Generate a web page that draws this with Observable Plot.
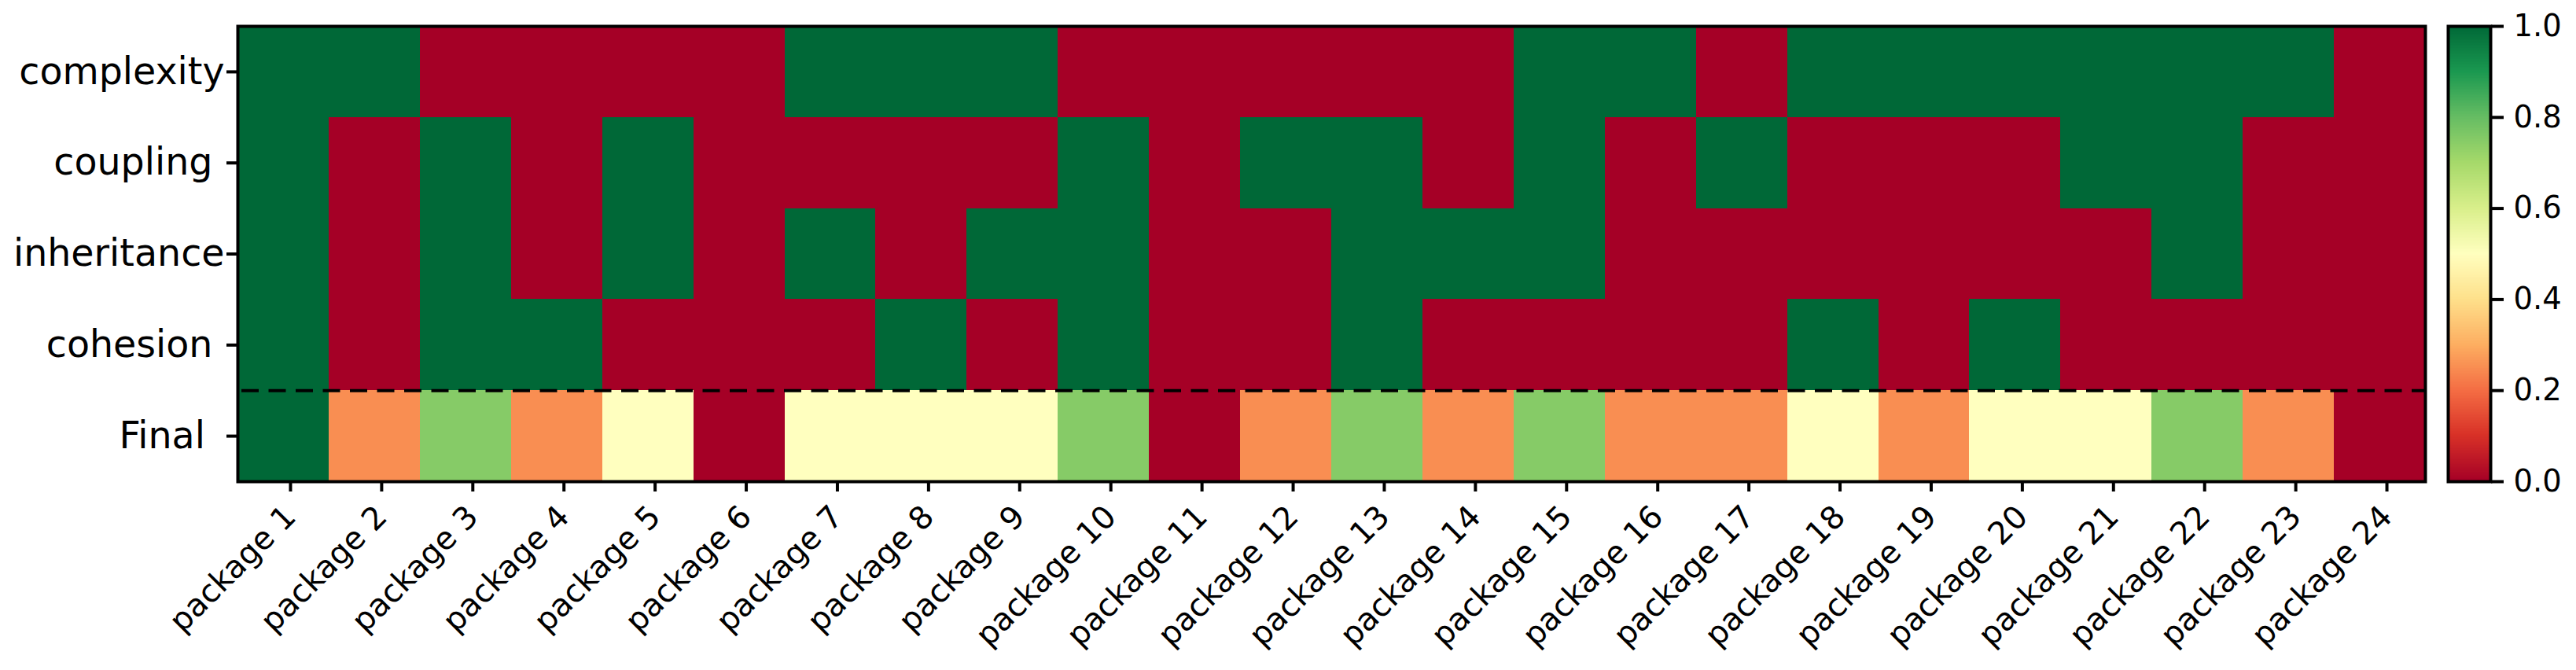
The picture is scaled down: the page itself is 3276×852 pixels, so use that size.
<!DOCTYPE html>
<html><head><meta charset="utf-8">
<script src="https://cdn.jsdelivr.net/npm/d3@7"></script>
<script src="https://cdn.jsdelivr.net/npm/@observablehq/plot@0.6"></script>
<style>
html,body{margin:0;padding:0;background:#fff;}
#chart{display:flex;width:3276px;height:852px;font-family:"DejaVu Sans",sans-serif;}
</style></head><body><div id="chart"></div><script>
const packages = ["package 1","package 2","package 3","package 4","package 5","package 6","package 7","package 8","package 9","package 10","package 11","package 12","package 13","package 14","package 15","package 16","package 17","package 18","package 19","package 20","package 21","package 22","package 23","package 24"];
const metrics = ["complexity","coupling","inheritance","cohesion","Final"];
const complexity  = [1,1,0,0,0,0,1,1,1,0,0,0,0,0,1,1,0,1,1,1,1,1,1,0];
const coupling    = [1,0,1,0,1,0,0,0,0,1,0,1,1,0,1,0,1,0,0,0,1,1,0,0];
const inheritance = [1,0,1,0,1,0,1,0,1,1,0,0,1,1,1,0,0,0,0,0,0,1,0,0];
const cohesion    = [1,0,1,1,0,0,0,1,0,1,0,0,1,0,0,0,0,1,0,1,0,0,0,0];
const finalScore  = [1,0.25,0.75,0.25,0.5,0,0.5,0.5,0.5,0.75,0,0.25,0.75,0.25,0.75,0.25,0.25,0.5,0.25,0.5,0.5,0.75,0.25,0];
const colorbarTicks = [0,0.2,0.4,0.6,0.8,1.0];

const rdylgn = ["#a50026","#d73027","#f46d43","#fdae61","#fee08b","#ffffbf","#d9ef8b","#a6d96a","#66bd63","#1a9850","#006837"];
const rowValues = [complexity, coupling, inheritance, cohesion, finalScore];
const table = metrics.flatMap((m, r) => packages.map((p, i) => ({pkg: p, metric: m, i, r, value: rowValues[r][i]})));
const font = '"DejaVu Sans", sans-serif';
const color = {type: "linear", domain: rdylgn.map((_, k) => k / (rdylgn.length - 1)), range: rdylgn, interpolate: "rgb"};

const yLabel = (m) => (m === "complexity" || m === "inheritance") ? m : (m === "Final" ? m + "\u00a0\u2009" : m + "\u00a0");

const main = Plot.plot({
  width: 3090, height: 852,
  marginLeft: 302, marginRight: 6, marginTop: 33, marginBottom: 240,
  style: {fontFamily: font, color: "black", background: "white", overflow: "visible"},
  x: {domain: [0, packages.length]},
  y: {domain: [0, metrics.length], reverse: true},
  color,
  marks: [
    Plot.rect(table, {x1: "i", x2: d => d.i + 1, y1: "r", y2: d => d.r + 1, fill: "value", shapeRendering: "crispEdges"}),
    Plot.ruleY([metrics.length - 1], {stroke: "black", strokeWidth: 4, strokeDasharray: "22,12.5", strokeDashoffset: 29.5}),
    Plot.frame({stroke: "black", strokeWidth: 4}),
    Plot.axisX(packages.map((_, i) => i + 0.5), {
      tickFormat: d => packages[Math.floor(d)], tickRotate: -45, tickSize: 13, tickPadding: 25, dx: 9,
      fontSize: 40, strokeWidth: 4, label: null
    }),
    Plot.axisY(metrics.map((_, r) => r + 0.5), {
      tickFormat: d => yLabel(metrics[Math.floor(d)]), tickSize: 14, tickPadding: 3,
      fontSize: 47.5, strokeWidth: 4, label: null
    })
  ]
});

const N = 290;
const ramp = d3.range(N).map(k => ({y1: k / N, y2: (k + 1.02) / N, v: (k + 0.5) / N}));
const bar = Plot.plot({
  width: 186, height: 852,
  marginLeft: 23, marginRight: 109, marginTop: 33, marginBottom: 240,
  style: {fontFamily: font, color: "black", background: "white", overflow: "visible"},
  y: {domain: [0, 1]},
  color,
  marks: [
    Plot.rect(ramp, {y1: "y1", y2: "y2", fill: "v", shapeRendering: "crispEdges"}),
    Plot.frame({stroke: "black", strokeWidth: 4}),
    Plot.axisY(colorbarTicks, {anchor: "right", tickFormat: d3.format(".1f"), tickSize: 16, tickPadding: 13, fontSize: 38.5, strokeWidth: 4, label: null})
  ]
});

document.getElementById("chart").append(main, bar);
</script></body></html>
